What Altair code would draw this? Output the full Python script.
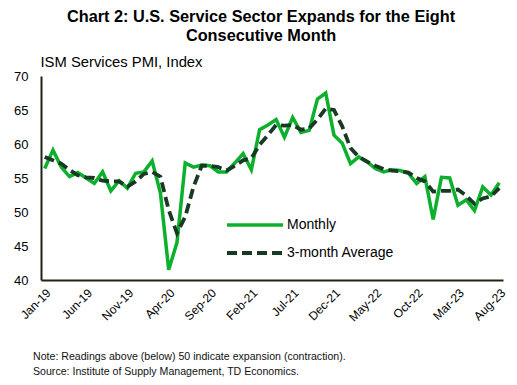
import altair as alt
import pandas as pd

months = ["Jan-19","Feb-19","Mar-19","Apr-19","May-19","Jun-19","Jul-19","Aug-19","Sep-19","Oct-19","Nov-19","Dec-19",
          "Jan-20","Feb-20","Mar-20","Apr-20","May-20","Jun-20","Jul-20","Aug-20","Sep-20","Oct-20","Nov-20","Dec-20",
          "Jan-21","Feb-21","Mar-21","Apr-21","May-21","Jun-21","Jul-21","Aug-21","Sep-21","Oct-21","Nov-21","Dec-21",
          "Jan-22","Feb-22","Mar-22","Apr-22","May-22","Jun-22","Jul-22","Aug-22","Sep-22","Oct-22","Nov-22","Dec-22",
          "Jan-23","Feb-23","Mar-23","Apr-23","May-23","Jun-23","Jul-23","Aug-23"]

monthly = [56.4,59.1,56.6,55.2,55.8,55.0,54.2,55.9,53.1,54.6,53.5,55.7,
           55.9,57.5,52.8,41.5,45.5,57.2,56.6,56.9,56.8,55.9,55.9,57.2,
           58.6,56.2,62.1,62.8,63.6,61.0,63.9,61.7,62.0,66.6,67.5,61.3,
           60.1,57.1,58.1,57.4,56.4,55.9,56.2,56.1,55.7,54.2,55.2,48.9,
           55.1,55.0,51.0,51.8,50.2,53.7,52.5,54.3]

avg3 = [58.1,57.6,57.1,56.2,55.4,55.1,55.0,54.6,54.5,54.5,53.7,54.5,
        55.6,55.9,55.2,50.3,46.9,49.3,53.7,56.8,56.8,56.6,56.1,56.8,
        57.6,57.9,59.9,61.3,62.8,62.7,62.8,62.1,62.3,63.6,65.2,65.0,
        62.6,59.4,58.1,57.4,56.8,56.3,56.1,56.0,55.8,55.0,54.5,53.0,
        53.1,53.1,53.3,52.4,51.2,52.0,52.3,53.5]

series_names = ["Monthly", "3-month Average"]
tick_labels = months[::5]

notes = ["Note: Readings above (below) 50 indicate expansion (contraction).",
         "Source: Institute of Supply Management, TD Economics."]

df = pd.DataFrame({
    "month": months * 2,
    "value": monthly + avg3,
    "series": [series_names[0]] * len(months) + [series_names[1]] * len(months),
})

FONT = "Liberation Sans"
GREEN = "#0CB02C"
DARK = "#183A24"
AXIS = "#1E2412"
DASH = [10, 5]

x_enc = alt.X("month:O", sort=months,
              scale=alt.Scale(type="point", padding=0.45),
              axis=alt.Axis(values=tick_labels, labelAngle=-45, labelAlign="right",
                            labelBaseline="top", ticks=False, labelPadding=7,
                            labelFontSize=12, labelFont=FONT, labelColor="#000000",
                            domainColor=AXIS, domainWidth=2, title=None, grid=False))
y_enc = alt.Y("value:Q", scale=alt.Scale(domain=[40, 70], nice=False, zero=False),
              axis=alt.Axis(values=[40, 45, 50, 55, 60, 65, 70], ticks=False, labelPadding=13,
                            labelFontSize=13, labelFont=FONT, labelColor="#000000",
                            domainColor=AXIS, domainWidth=2, grid=False,
                            title="ISM Services PMI, Index", titleAngle=0, titleAlign="left",
                            titleBaseline="middle", titleX=-1, titleY=-14,
                            titleFont=FONT, titleFontSize=14.8, titleFontWeight="normal",
                            titleColor="#000000"))

base = alt.Chart(df).encode(x=x_enc, y=y_enc)

green_line = base.transform_filter(alt.datum.series == series_names[0]).mark_line(
    strokeWidth=3.5, color=GREEN)
dash_line = base.transform_filter(alt.datum.series == series_names[1]).mark_line(
    strokeWidth=3.8, color=DARK, strokeDash=DASH, strokeCap="butt")

# legend (manual, inside plot)
leg_df = pd.DataFrame({"series": series_names})
leg_rule_1 = alt.Chart(leg_df).transform_filter(alt.datum.series == series_names[0]).mark_rule(
    color=GREEN, strokeWidth=3.5).encode(x=alt.value(186), x2=alt.value(242), y=alt.value(149))
leg_rule_2 = alt.Chart(leg_df).transform_filter(alt.datum.series == series_names[1]).mark_rule(
    color=DARK, strokeWidth=3.8, strokeDash=DASH, strokeCap="butt").encode(
    x=alt.value(186), x2=alt.value(242), y=alt.value(177))
leg_text_1 = alt.Chart(leg_df).transform_filter(alt.datum.series == series_names[0]).mark_text(
    align="left", baseline="middle", font=FONT, fontSize=14, color="#000000").encode(
    x=alt.value(246), y=alt.value(149), text="series:N")
leg_text_2 = alt.Chart(leg_df).transform_filter(alt.datum.series == series_names[1]).mark_text(
    align="left", baseline="middle", font=FONT, fontSize=14, color="#000000").encode(
    x=alt.value(246), y=alt.value(177), text="series:N")

notes_df = pd.DataFrame({"note": notes})
note_1 = alt.Chart(notes_df).transform_filter(alt.datum.note == notes[0]).mark_text(
    align="left", baseline="middle", font=FONT, fontSize=10.6, color="#111111").encode(
    x=alt.value(-8), y=alt.value(281), text="note:N")
note_2 = alt.Chart(notes_df).transform_filter(alt.datum.note == notes[1]).mark_text(
    align="left", baseline="middle", font=FONT, fontSize=10.6, color="#111111").encode(
    x=alt.value(-8), y=alt.value(296), text="note:N")

chart = alt.layer(green_line, dash_line, leg_rule_1, leg_rule_2, leg_text_1, leg_text_2,
                  note_1, note_2).properties(
    width=462, height=204,
    autosize=alt.AutoSizeParams(type="none"),
    padding={"left": 33, "top": 68, "right": 6, "bottom": 97},
    title=alt.TitleParams(["Chart 2: U.S. Service Sector Expands for the Eight", "Consecutive Month"],
                          font=FONT, fontSize=16.3, fontWeight="bold", color="#000000",
                          anchor="middle", dx=-11, offset=10, lineHeight=19),
).configure_view(stroke=None)

chart.save("out.html", embed_options={"renderer": "svg", "actions": False})
